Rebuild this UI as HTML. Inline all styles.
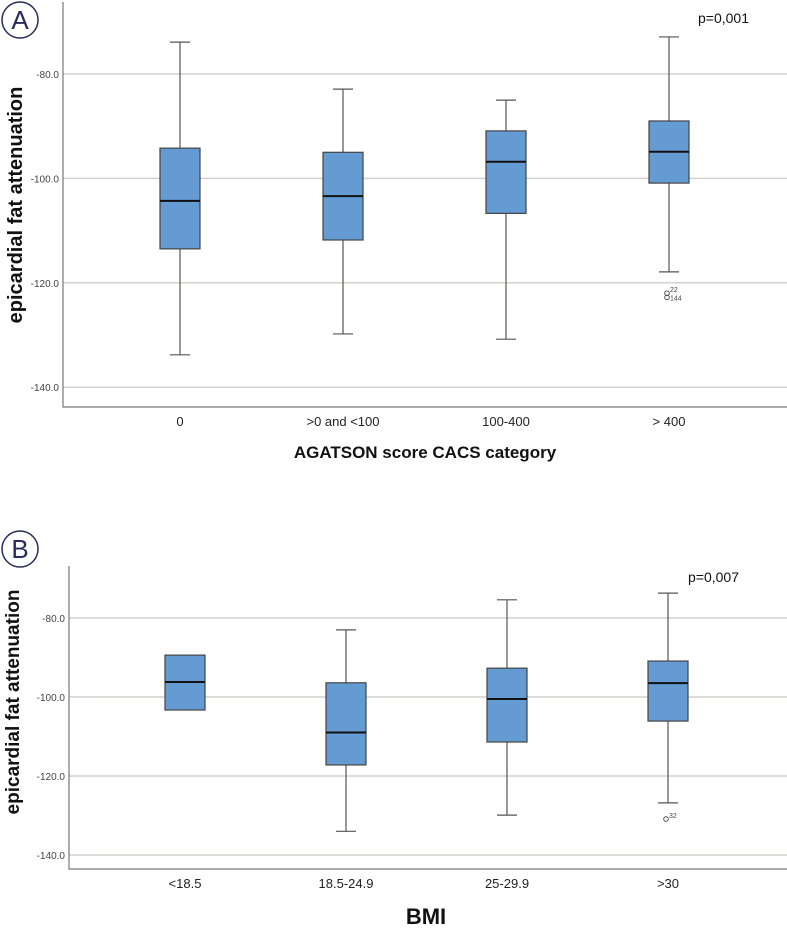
<!DOCTYPE html>
<html><head><meta charset="utf-8"><style>
body{margin:0;background:#fff;width:787px;height:928px;overflow:hidden}
svg text{font-family:"Liberation Sans",sans-serif}
</style></head><body>
<svg id="s" width="787" height="928"></svg>
<script>
const catsA=["0",">0 and <100","100-400","> 400"];
const maxA=[-73.9,-82.9,-85,-72.9];
const q3A=[-94.2,-95,-90.9,-89];
const medA=[-104.3,-103.4,-96.8,-94.9];
const q1A=[-113.5,-111.8,-106.7,-100.9];
const minA=[-133.8,-129.8,-130.8,-117.9];
const outA=[[],[],[],[-122,-122.8]];
const outLblA=[[],[],[],["22","144"]];
const catsB=["<18.5","18.5-24.9","25-29.9",">30"];
const maxB=[null,-83,-75.4,-73.7];
const q3B=[-89.4,-96.4,-92.7,-90.9];
const medB=[-96.2,-109,-100.5,-96.5];
const q1B=[-103.3,-117.2,-111.4,-106.1];
const minB=[null,-134,-129.9,-126.8];
const outB=[[],[],[],[-130.9]];
const outLblB=[[],[],[],["32"]];
const ticks=[-80,-100,-120,-140];
const tickLbl=["-80.0","-100.0","-120.0","-140.0"];
const NS="http://www.w3.org/2000/svg";
const svg=document.getElementById('s');
function mk(tag,at,parent){const e=document.createElementNS(NS,tag);for(const k in at)e.setAttribute(k,at[k]);(parent||svg).appendChild(e);return e;}
function panel(cfg){
  const g=mk('g',{});
  
  
  const y=v=>cfg.y80+(-80-v)*cfg.ppu;
  const x=i=>cfg.x0+i*cfg.dx;
  ticks.forEach((t,i)=>{
    const l=mk('line',{x1:cfg.axX,x2:787,y1:y(t),y2:y(t),stroke:'#d4d0cc','stroke-width':1.5},g);
    
    
    const tx=mk('text',{x:cfg.axX-4,y:y(t)+4,'text-anchor':'end','font-size':10,fill:'#444'},g);
    tx.textContent=tickLbl[i];
    
    
  });
  const ax=mk('path',{d:`M${cfg.axX},${cfg.top}V${cfg.bot}H787`,stroke:'#777',fill:'none','stroke-width':1.2},g);
  
  
  cfg.cats.forEach((c,i)=>{
    const cx=x(i),w=20;
    if(cfg.max[i]!=null){
      const wh=mk('path',{d:`M${cx},${y(cfg.max[i])}V${y(cfg.q3[i])}M${cx},${y(cfg.q1[i])}V${y(cfg.min[i])}M${cx-10},${y(cfg.max[i])}H${cx+10}M${cx-10},${y(cfg.min[i])}H${cx+10}`,stroke:'#555','stroke-width':1.2,fill:'none'},g);
      
      
    }
    const r=mk('rect',{x:cx-w,y:y(cfg.q3[i]),width:2*w,height:y(cfg.q1[i])-y(cfg.q3[i]),fill:'#659bd3',stroke:'#444','stroke-width':1.2},g);
    
    
    const m=mk('line',{x1:cx-w,x2:cx+w,y1:y(cfg.med[i]),y2:y(cfg.med[i]),stroke:'#111','stroke-width':2},g);
    
    
    cfg.out[i].forEach((o,j)=>{
      const ci=mk('circle',{cx:cx-2,cy:y(o),r:2.3,fill:'none',stroke:'#444','stroke-width':0.9},g);
      
      
      const ol=mk('text',{x:cx+1,y:y(o)+(j==0?-1:3),'font-size':7,fill:'#444'},g);
      ol.textContent=cfg.outLbl[i][j];
      
      
    });
    const tl=mk('text',{x:cx,y:cfg.bot+19,'text-anchor':'middle','font-size':13,fill:'#222'},g);
    tl.textContent=c;
    
    
  });
  const xt=mk('text',{x:cfg.xtX,y:cfg.xtY,'text-anchor':'middle','font-size':cfg.xtSize,'font-weight':'bold',fill:'#111'},g);
  xt.textContent=cfg.xTitle;
  
  
  const yt=mk('text',{x:0,y:0,transform:`translate(${cfg.ytX},${cfg.ytY}) rotate(-90)`,'text-anchor':'middle','font-size':cfg.ytSize,'font-weight':'bold',fill:'#111'},g);
  yt.textContent='epicardial fat attenuation';
  
  
  const p=mk('text',{x:cfg.pX,y:cfg.pY,'font-size':14,fill:'#111'},g);
  p.textContent=cfg.p;
  
  
  const lc=mk('circle',{cx:20,cy:cfg.lblY,r:18,fill:'none',stroke:'#2a2d5a','stroke-width':1.5},g);
  
  
  const lt=mk('text',{x:20,y:cfg.lblY+9,'text-anchor':'middle','font-size':26,fill:'#2a2d5a'},g);
  lt.textContent=cfg.lbl;
  
  
}
panel({name:'panel-a',cats:catsA,max:maxA,q3:q3A,med:medA,q1:q1A,min:minA,out:outA,outLbl:outLblA,
  y80:74,ppu:5.22,x0:180,dx:163,axX:63,top:2,bot:407,xTitle:'AGATSON score CACS category',xtX:425,xtY:458,xtSize:17,
  ytX:22,ytY:205,ytSize:20,p:'p=0,001',pX:698,pY:23,lbl:'A',lblY:20});
panel({name:'panel-b',cats:catsB,max:maxB,q3:q3B,med:medB,q1:q1B,min:minB,out:outB,outLbl:outLblB,
  y80:618,ppu:3.95,x0:185,dx:161,axX:69,top:566,bot:869,xTitle:'BMI',xtX:426,xtY:924,xtSize:22,
  ytX:19,ytY:702,ytSize:19,p:'p=0,007',pX:688,pY:582,lbl:'B',lblY:549});
</script>
</body></html>
